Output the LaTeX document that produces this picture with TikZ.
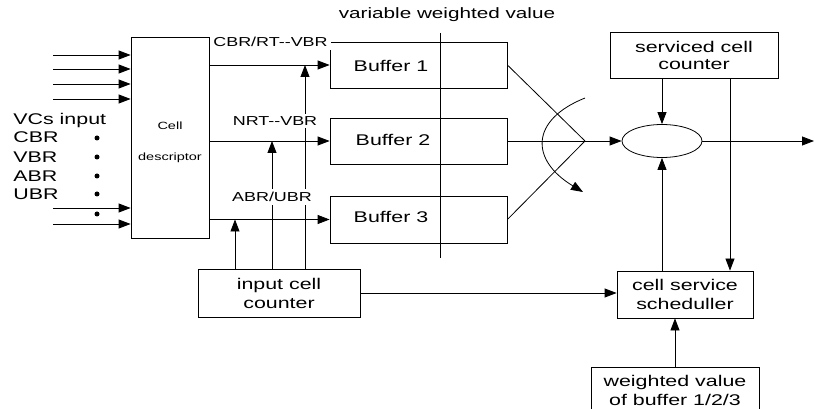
\documentclass[tikz,border=0pt]{standalone}
\usepackage{fontspec}
\setmainfont{Liberation Sans}[FakeStretch=1.38]
\usetikzlibrary{arrows.meta,shapes.geometric}
\begin{document}
\begin{tikzpicture}[x=1pt,y=-1pt, line width=0.8pt,
  arr/.style={-{Triangle[length=12pt,width=9pt]}},
  box/.style={draw, rectangle, inner sep=0pt},
  txt/.style={font=\fontsize{15.5}{19}\selectfont, align=center, inner sep=0pt},
  lbl/.style={font=\fontsize{13}{15}\selectfont, fill=white, inner sep=3pt},
  small/.style={font=\fontsize{10.5}{12}\selectfont, inner sep=0pt},
  dot/.style={circle, fill, inner sep=0pt, minimum size=5pt}]
\useasboundingbox (0,0) rectangle (815,409);

% boxes
\node[box, minimum width=78pt, minimum height=201pt] (cd) at (170,137.5) {};
\node[small, anchor=base] (cdt1) at (170,130) {Cell};
\node[small, anchor=base] (cdt2) at (170,161) {descriptor};

\node[box, minimum width=177pt, minimum height=46pt] (b1) at (418.5,65) {};
\node[box, minimum width=177pt, minimum height=46pt] (b2) at (418.5,141) {};
\node[box, minimum width=177pt, minimum height=47pt] (b3) at (418.5,219.5) {};
\node[txt] (b1t) at (391,66) {Buffer 1};
\node[txt] (b2t) at (393,140) {Buffer 2};
\node[txt] (b3t) at (391,217) {Buffer 3};
\coordinate (vt) at (440,33);
\coordinate (vb) at (440,258);
\draw (vt) -- (vb);

\node[box, txt, minimum width=168pt, minimum height=46pt, font=\fontsize{15.5}{17}\selectfont] (sc) at (694,55) {serviced cell\\counter};
\node[draw, ellipse, minimum width=80pt, minimum height=33pt, inner sep=0pt] (ell) at (662,141) {};
\node[box, txt, minimum width=136pt, minimum height=47pt] (sch) at (685,294.5) {cell service\\scheduller};
\node[box, txt, minimum width=168pt, minimum height=46pt] (wv) at (675,390) {weighted value\\of buffer 1/2/3};
\node[box, txt, minimum width=162pt, minimum height=48pt] (ic) at (279,293) {input cell\\counter};

% left texts
\node[txt, anchor=base west] (vc) at (13,125) {VCs input};
\node[txt, anchor=base west] (t1) at (13,143) {CBR};
\node[txt, anchor=base west] (t2) at (13,163) {VBR};
\node[txt, anchor=base west] (t3) at (13,182) {ABR};
\node[txt, anchor=base west] (t4) at (13,200) {UBR};
\foreach \y [count=\i] in {138,157,176,194,214} {\node[dot] (d\i) at (97,\y) {};}

% inputs
\foreach \y [count=\i] in {55,69,84,99,208,224} {
  \coordinate (in\i) at (53,\y);
  \draw[arr] (in\i) -- (in\i -| cd.west);
}

% cell descriptor to buffers
\draw[arr] (cd.east |- b1.west) -- (b1.west);
\draw[arr] (cd.east |- b2.west) -- (b2.west);
\draw[arr] (cd.east |- b3.west) -- (b3.west);

% input cell counter taps
\coordinate (j1) at (305,65);
\coordinate (j2) at (272,141);
\coordinate (j3) at (235,219.5);
\draw[arr] (ic.north -| j1) -- (j1);
\draw[arr] (ic.north -| j2) -- (j2);
\draw[arr] (ic.north -| j3) -- (j3);
\draw[arr] (ic.east) -- (ic.east -| sch.west);

% buffers to merge point
\coordinate (m) at (585,141);
\draw (b1.east) -- (m);
\draw (b2.east) -- (m);
\draw (b3.east) -- (m);
\draw[arr] (m) -- (ell.west);
\coordinate (cs) at (585,98);
\coordinate (ce) at (583,192);
\draw[arr] (cs) .. controls (530,120) and (530,160) .. (ce);

% right side
\coordinate (k) at (730,78);
\draw[arr] (sc.south -| ell.north) -- (ell.north);
\draw[arr] (sc.south -| k) -- (sch.north -| k);
\draw[arr] (sch.north -| ell.south) -- (ell.south);
\draw[arr] (wv.north) -- (sch.south -| wv.north);
\coordinate (out) at (814,141);
\draw[arr] (ell.east) -- (out);

% labels
\node[lbl] (l1) at (270.5,42) {CBR/RT{-}{-}VBR};
\node[lbl] (l2) at (275,121) {NRT{-}{-}VBR};
\node[lbl] (l3) at (272,197) {ABR/UBR};
\node[font=\fontsize{15}{17}\selectfont, inner sep=0pt] (vw) at (447,15) {variable weighted value};
\end{tikzpicture}
\end{document}
